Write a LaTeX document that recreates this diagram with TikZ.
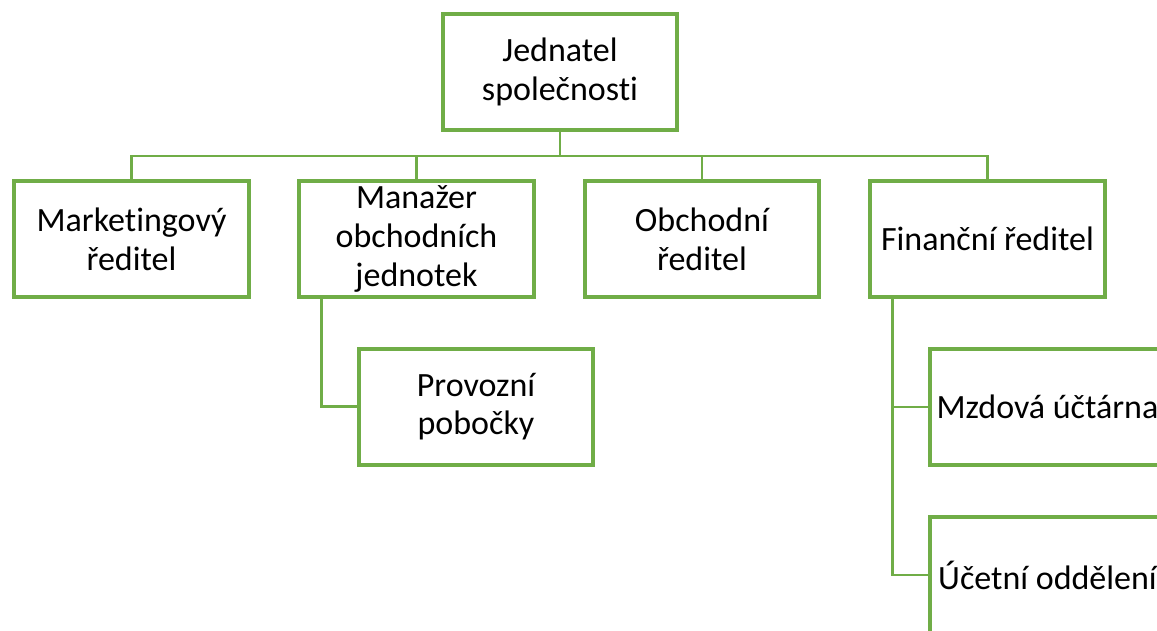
\documentclass[tikz,border=0pt]{standalone}
\usepackage{fontspec}
\setmainfont{Carlito}[RawFeature=-liga]
\definecolor{orggreen}{RGB}{112,173,71}

\begin{document}
\begin{tikzpicture}[x=0.75pt,y=-0.75pt,
	box/.style={draw=orggreen, line width=3pt, fill=white, minimum width=176pt, minimum height=87pt,
		align=center, inner sep=2pt, font=\fontsize{25.5}{29}\selectfont},
	conn/.style={draw=orggreen, line width=2pt}]
	%%%%% START %%%%%
	
	\useasboundingbox (0,0) rectangle (1157,631);
	\clip (0,0) rectangle (1157,631);
	
	\node[box] (jednatel) at (560, 72) {Jednatel\\společnosti};
	
	\node[box] (marketing) at (131.5, 239) {Marketingový\\ředitel};
	\node[box] (manazer) at (416.5, 239) {Manažer\\obchodních\\jednotek};
	\node[box] (obchod) at (702, 239) {Obchodní\\ředitel};
	\node[box] (financni) at (987.5, 239) {Finanční ředitel};
	
	\node[box] (provozni) at (476, 406.5) {Provozní\\pobočky};
	\node[box] (mzdova) at (1047.5, 407) {Mzdová účtárna};
	\node[box] (ucetni) at (1047.5, 575) {Účetní oddělení};
	
	\coordinate (bus) at (560, 156);
	
	\draw[conn] (jednatel.south) -- (bus);
	\draw[conn] (marketing.north) |- (bus) -| (financni.north);
	\draw[conn] (manazer.north) -- (manazer.north |- bus);
	\draw[conn] (obchod.north) -- (obchod.north |- bus);
	
	\draw[conn] ([xshift=18pt]manazer.south west) |- (provozni.west);
	\draw[conn] ([xshift=18pt]financni.south west) |- (mzdova.west);
	\draw[conn] ([xshift=18pt]financni.south west) |- (ucetni.west);
	
	%%%%% END %%%%%
\end{tikzpicture}
\end{document}
